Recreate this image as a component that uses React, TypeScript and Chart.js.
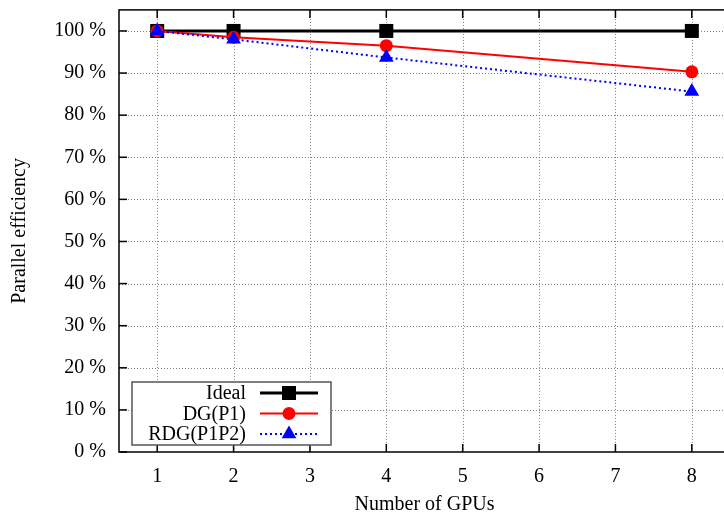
import React, { useEffect, useRef } from "react";
import { Chart, registerables } from "chart.js";

Chart.register(...registerables);

const gpus = [1, 2, 4, 8];
const ideal = [100, 100, 100, 100];
const dgP1 = [100, 98.5, 96.5, 90.3];
const rdgP1P2 = [100, 98, 93.7, 85.6];
const xTickValues = [1, 2, 3, 4, 5, 6, 7, 8];
const yTickValues = [0, 10, 20, 30, 40, 50, 60, 70, 80, 90, 100];
const seriesNames = ["Ideal", "DG(P1)", "RDG(P1P2)"];
const xTitle = "Number of GPUs";
const yTitle = "Parallel efficiency";

const FONT = "'Liberation Serif', 'Times New Roman', serif";

function drawMarker(ctx: CanvasRenderingContext2D, style: string, x: number, y: number, color: string) {
  ctx.save();
  ctx.fillStyle = color;
  ctx.setLineDash([]);
  ctx.beginPath();
  if (style === "rect") {
    ctx.rect(x - 7, y - 7, 14, 14);
  } else if (style === "circle") {
    ctx.arc(x, y, 6.5, 0, Math.PI * 2);
  } else {
    const r = 8.5;
    ctx.moveTo(x, y - r);
    ctx.lineTo(x + r * 0.866, y + r * 0.5);
    ctx.lineTo(x - r * 0.866, y + r * 0.5);
    ctx.closePath();
  }
  ctx.fill();
  ctx.restore();
}

const framePlugin = {
  id: "gnuFrame",
  beforeDatasetsDraw(chart: any) {
    const { ctx, chartArea } = chart;
    const xs = chart.scales.x;
    const ys = chart.scales.y;
    const { left, right, top, bottom } = chartArea;
    ctx.save();
    ctx.strokeStyle = "#808080";
    ctx.lineWidth = 1;
    ctx.setLineDash([1, 2]);
    yTickValues.forEach((v) => {
      if (v === 0) return;
      const y = Math.round(ys.getPixelForValue(v)) + 0.5;
      ctx.beginPath();
      ctx.moveTo(left, y);
      ctx.lineTo(right, y);
      ctx.stroke();
    });
    xTickValues.forEach((v) => {
      const x = Math.round(xs.getPixelForValue(v)) + 0.5;
      ctx.beginPath();
      ctx.moveTo(x, top);
      ctx.lineTo(x, bottom);
      ctx.stroke();
    });
    ctx.setLineDash([]);
    ctx.strokeStyle = "#000";
    ctx.lineWidth = 1.5;
    ctx.strokeRect(left, top, right - left, bottom - top);
    const tl = 8;
    yTickValues.forEach((v) => {
      const y = ys.getPixelForValue(v);
      ctx.beginPath();
      ctx.moveTo(left, y);
      ctx.lineTo(left + tl, y);
      ctx.stroke();
    });
    xTickValues.forEach((v) => {
      const x = xs.getPixelForValue(v);
      ctx.beginPath();
      ctx.moveTo(x, bottom);
      ctx.lineTo(x, bottom - tl);
      ctx.moveTo(x, top);
      ctx.lineTo(x, top + tl);
      ctx.stroke();
    });
    ctx.restore();
  },
  afterDraw(chart: any) {
    const { ctx, chartArea } = chart;
    ctx.save();
    ctx.fillStyle = "#000";
    ctx.font = `20px ${FONT}`;
    ctx.textAlign = "center";
    ctx.textBaseline = "middle";
    ctx.fillText(xTitle, (chartArea.left + chartArea.right) / 2, 505);
    ctx.save();
    ctx.translate(20, (chartArea.top + chartArea.bottom) / 2);
    ctx.rotate(-Math.PI / 2);
    ctx.fillText(yTitle, 0, 0);
    ctx.restore();

    const bx = 132, by = 382, bw = 199, bh = 63;
    ctx.fillStyle = "#fff";
    ctx.fillRect(bx, by, bw, bh);
    ctx.strokeStyle = "#555";
    ctx.lineWidth = 1.5;
    ctx.strokeRect(bx, by, bw, bh);
    const rows = [393, 413.5, 434];
    const colors = ["#000", "#ff0000", "#0000ff"];
    const widths = [3, 2, 2];
    const dashes = [[], [], [2, 3]];
    const markers = ["rect", "circle", "triangle"];
    ctx.textAlign = "right";
    ctx.textBaseline = "middle";
    seriesNames.forEach((name, i) => {
      const y = rows[i];
      ctx.fillStyle = "#000";
      ctx.font = `20px ${FONT}`;
      ctx.fillText(name, 246, y + 1);
      ctx.save();
      ctx.strokeStyle = colors[i];
      ctx.lineWidth = widths[i];
      ctx.setLineDash(dashes[i]);
      ctx.beginPath();
      ctx.moveTo(260, y);
      ctx.lineTo(318, y);
      ctx.stroke();
      ctx.restore();
      drawMarker(ctx, markers[i], 289, y, colors[i]);
    });
    ctx.restore();
  },
};

export default function App() {
  const ref = useRef<HTMLCanvasElement | null>(null);
  useEffect(() => {
    if (!ref.current) return;
    const mk = (vals: number[]) => gpus.map((g, i) => ({ x: g, y: vals[i] }));
    const chart = new Chart(ref.current, {
      type: "line",
      data: {
        datasets: [
          {
            label: seriesNames[0],
            data: mk(ideal),
            borderColor: "#000",
            backgroundColor: "#000",
            borderWidth: 3,
            pointStyle: "rect",
            pointRadius: 9.9,
            pointBorderWidth: 0,
            order: 3,
          },
          {
            label: seriesNames[1],
            data: mk(dgP1),
            borderColor: "#ff0000",
            backgroundColor: "#ff0000",
            borderWidth: 2,
            pointStyle: "circle",
            pointRadius: 6.5,
            pointBorderWidth: 0,
            order: 2,
          },
          {
            label: seriesNames[2],
            data: mk(rdgP1P2),
            borderColor: "#0000ff",
            backgroundColor: "#0000ff",
            borderWidth: 2,
            borderDash: [2, 3],
            pointStyle: "triangle",
            pointRadius: 8.5,
            pointBorderWidth: 0,
            order: 1,
          },
        ],
      },
      options: {
        animation: false,
        responsive: false,
        devicePixelRatio: 1,
        layout: { padding: { top: 9, right: 10, left: 0, bottom: 0 } },
        plugins: { legend: { display: false }, tooltip: { enabled: false } },
        scales: {
          x: {
            type: "linear",
            min: 0.5,
            max: 8.5,
            grid: { display: false, drawTicks: false },
            border: { display: false },
            afterBuildTicks: (s: any) => {
              s.ticks = xTickValues.map((v) => ({ value: v }));
            },
            afterFit: (s: any) => {
              s.height = 67;
              s.paddingLeft = 0;
              s.paddingRight = 0;
            },
            ticks: {
              padding: 13,
              color: "#000",
              font: { family: FONT, size: 20 },
              maxRotation: 0,
              callback: (v: any) => String(v),
            },
          },
          y: {
            type: "linear",
            min: 0,
            max: 105,
            grid: { display: false, drawTicks: false },
            border: { display: false },
            afterBuildTicks: (s: any) => {
              s.ticks = yTickValues.map((v) => ({ value: v }));
            },
            afterFit: (s: any) => {
              s.width = 119;
              s.paddingTop = 0;
              s.paddingBottom = 0;
            },
            ticks: {
              padding: 13,
              color: "#000",
              font: { family: FONT, size: 20 },
              callback: (v: any) => `${v} %`,
            },
          },
        },
      },
      plugins: [framePlugin],
    } as any);
    return () => chart.destroy();
  }, []);
  return (
    <div style={{ position: "absolute", left: 0, top: 0, width: 724, height: 519, overflow: "hidden", background: "#fff" }}>
      <canvas ref={ref} width={740} height={519} style={{ display: "block" }} />
    </div>
  );
}
